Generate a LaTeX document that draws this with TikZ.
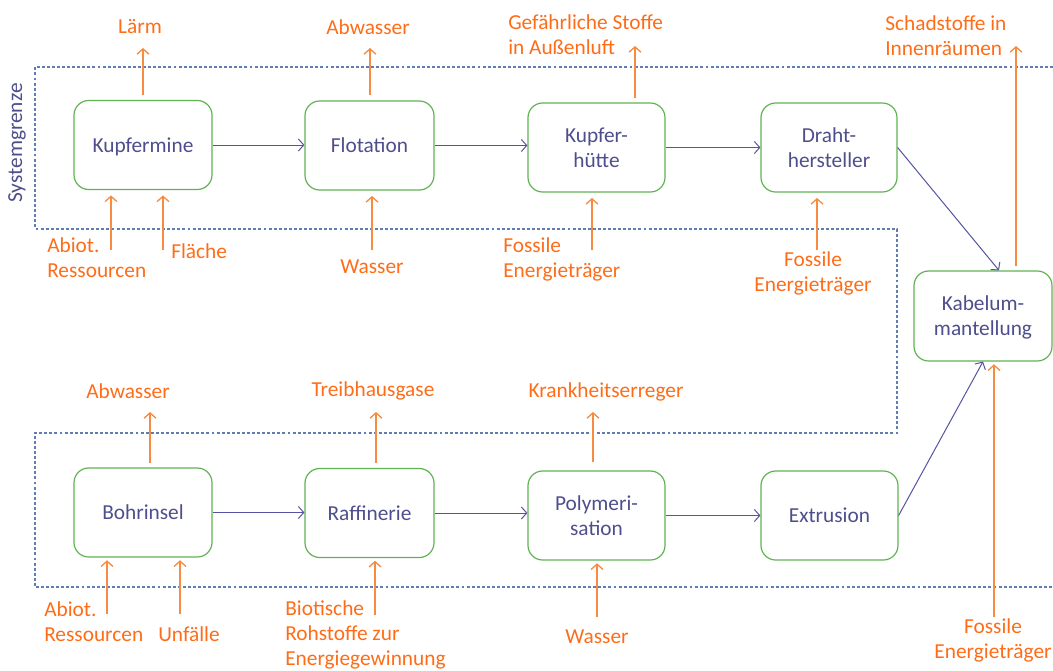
\documentclass[tikz,border=0pt]{standalone}
\usepackage{fontspec}
\setmainfont{Carlito}
\usetikzlibrary{arrows.meta,calc}
\definecolor{boxgreen}{RGB}{96,178,82}
\definecolor{boxtext}{RGB}{78,78,140}
\definecolor{flowblue}{RGB}{84,84,160}
\definecolor{otext}{RGB}{255,108,24}
\definecolor{oarrow}{RGB}{246,140,66}
\definecolor{sysblue}{RGB}{96,124,178}
\tikzset{
  procbox/.style={draw=boxgreen, line width=0.9pt, rounded corners=11pt, minimum height=66.75pt,
     text=boxtext, align=center, font=\fontsize{16}{18.75}\selectfont, inner sep=0pt, text depth=0pt},
  flow/.style={draw=flowblue, line width=0.75pt, -{Straight Barb[length=4pt,width=9pt]}},
  oarr/.style={draw=oarrow, line width=1pt, -{Straight Barb[length=4pt,width=9pt]}},
  olabel/.style={text=otext, font=\fontsize{16}{18.75}\selectfont, inner sep=0pt},
  sysline/.style={draw=sysblue, line width=0.8pt, dash pattern=on 2.2pt off 1.6pt},
}
\begin{document}
\begin{tikzpicture}[x=0.75pt,y=-0.75pt]
\useasboundingbox (0,0) rectangle (1053,671);

% system boundary
\draw[sysline] (1053,67) -- (35,67) -- (35,229) -- (897,229) -- (897,433) -- (35,433) -- (35,587) -- (1053,587);
\node[text=boxtext, font=\fontsize{16}{18}\selectfont, rotate=90, inner sep=0pt] (sys) at (17,143) {Systemgrenze};

% process boxes
\node[procbox, minimum width=103.5pt] (kupfermine) at (143,145) {Kupfermine};
\node[procbox, minimum width=96.75pt] (flotation) at (369.5,145.5) {Flotation};
\node[procbox, minimum width=102.75pt] (huette) at (596.5,147.5) {Kupfer-\\hütte};
\node[procbox, minimum width=102pt] (draht) at (829,147.5) {Draht-\\hersteller};
\node[procbox, minimum width=103.5pt, minimum height=67.5pt] (kabel) at (983,316) {Kabelum-\\mantellung};
\node[procbox, minimum width=103.5pt] (bohr) at (143,512.5) {Bohrinsel};
\node[procbox, minimum width=96.75pt] (raff) at (369.5,513) {Raffinerie};
\node[procbox, minimum width=102.75pt] (poly) at (596.5,515.5) {Polymeri-\\sation};
\node[procbox, minimum width=102.75pt] (extr) at (829.5,515.5) {Extrusion};

% flows
\draw[flow] (kupfermine.east) -- (kupfermine.east -| flotation.west);
\draw[flow] (flotation.east) -- (flotation.east -| huette.west);
\draw[flow] (huette.east) -- (huette.east -| draht.west);
\draw[flow] (draht.east) -- ($(kabel.north)+(16,0)$);
\draw[flow] (bohr.east) -- (bohr.east -| raff.west);
\draw[flow] (raff.east) -- (raff.east -| poly.west);
\draw[flow] (poly.east) -- (poly.east -| extr.west);
\draw[flow] (extr.east) -- (kabel.south);

% outputs (top row)
\coordinate (o1) at (143,48);
\coordinate (o2) at (370,48);
\coordinate (o3) at (635,46);
\coordinate (o4) at (1016,46);
\draw[oarr, shorten <=4pt] (o1 |- kupfermine.north) -- (o1);
\draw[oarr, shorten <=4pt] (o2 |- flotation.north) -- (o2);
\draw[oarr, shorten <=3pt] (o3 |- huette.north) -- (o3);
\draw[oarr, shorten <=3pt] (o4 |- kabel.north) -- (o4);
\node[olabel] (l1) at (140,27) {Lärm};
\node[olabel] (l2) at (368,27) {Abwasser};
\node[olabel, align=left, anchor=west] (l3) at (508,35) {Gefährliche Stoffe\\in Außenluft};
\node[olabel, align=left, anchor=west] (l4) at (885,36) {Schadstoffe in\\Innenräumen};

% inputs (top row)
\coordinate (i1) at (111,250);
\coordinate (i2) at (163,250);
\coordinate (i3) at (372,250);
\coordinate (i4) at (592,250);
\coordinate (i5) at (817,250);
\draw[oarr, shorten >=4pt] (i1) -- (i1 |- kupfermine.south);
\draw[oarr, shorten >=4pt] (i2) -- (i2 |- kupfermine.south);
\draw[oarr, shorten >=4pt] (i3) -- (i3 |- flotation.south);
\draw[oarr, shorten >=4pt] (i4) -- (i4 |- huette.south);
\draw[oarr, shorten >=4pt] (i5) -- (i5 |- draht.south);
\node[olabel, align=left, anchor=west] (l5) at (47,258) {Abiot.\\Ressourcen};
\node[olabel, anchor=west] (l6) at (171,251) {Fläche};
\node[olabel] (l7) at (372,267) {Wasser};
\node[olabel, align=left, anchor=west] (l8) at (503,259) {Fossile\\Energieträger};
\node[olabel, align=center] (l9) at (813,273) {Fossile\\Energieträger};

% outputs (bottom row)
\coordinate (o5) at (150,412);
\coordinate (o6) at (376,412);
\coordinate (o7) at (593,412);
\draw[oarr, shorten <=3pt] (o5 |- bohr.north) -- (o5);
\draw[oarr, shorten <=4pt] (o6 |- raff.north) -- (o6);
\draw[oarr, shorten <=6pt] (o7 |- poly.north) -- (o7);
\node[olabel] (l10) at (128,391) {Abwasser};
\node[olabel] (l11) at (373,391) {Treibhausgase};
\node[olabel] (l12) at (606,392) {Krankheitserreger};

% inputs (bottom row)
\coordinate (i6) at (107,614);
\coordinate (i7) at (180,614);
\coordinate (i8) at (375,615);
\coordinate (i9) at (597,617);
\coordinate (i10) at (994,617);
\draw[oarr, shorten >=2pt] (i6) -- (i6 |- bohr.south);
\draw[oarr, shorten >=2pt] (i7) -- (i7 |- bohr.south);
\draw[oarr, shorten >=2pt] (i8) -- (i8 |- raff.south);
\draw[oarr, shorten >=2pt] (i9) -- (i9 |- poly.south);
\draw[oarr, shorten >=2pt] (i10) -- (i10 |- kabel.south);
\node[olabel, align=left, anchor=west] (l13) at (44,622) {Abiot.\\Ressourcen};
\node[olabel, anchor=west] (l14) at (158,634) {Unfälle};
\node[olabel, align=left, anchor=west] (l15) at (285,635) {Biotische\\Rohstoffe zur\\Energiegewinnung};
\node[olabel] (l16) at (597,637) {Wasser};
\node[olabel, align=center] (l17) at (993,640) {Fossile\\Energieträger};
\end{tikzpicture}
\end{document}
